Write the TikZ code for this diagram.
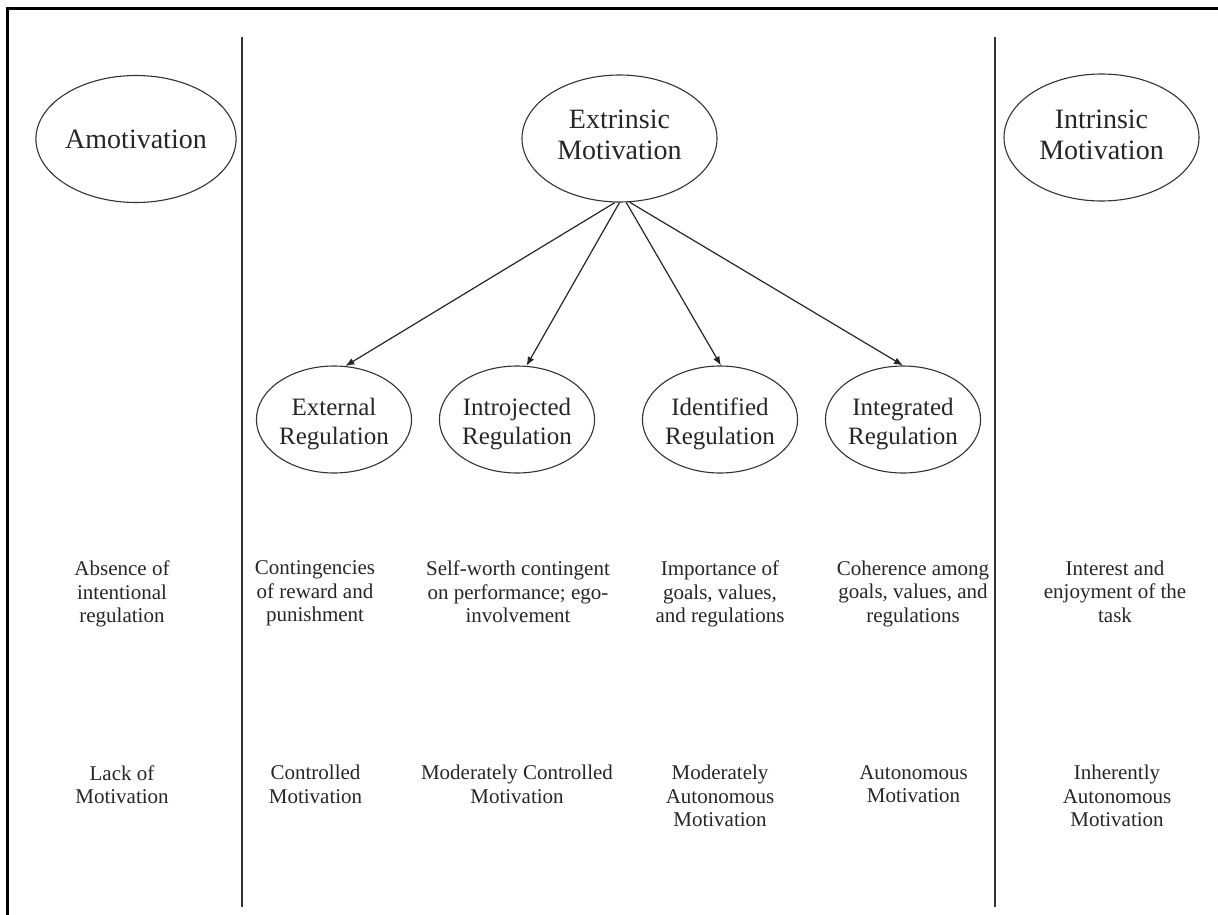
\documentclass[tikz,border=0pt]{standalone}
\usepackage{fontspec}
\setmainfont{Liberation Serif}
\usetikzlibrary{shapes.geometric,arrows.meta}
\begin{document}
\begin{tikzpicture}[x=1pt,y=-1pt,
  big/.style={ellipse,draw=black!80,line width=1.1pt,inner sep=0pt,align=center,text=black!85,
    font=\fontsize{28}{32}\selectfont,minimum width=195pt,minimum height=127pt},
  reg/.style={ellipse,draw=black!80,line width=1.1pt,inner sep=0pt,align=center,text=black!85,
    font=\fontsize{25}{29}\selectfont,minimum width=146pt,minimum height=107pt,
    text height=51pt,text depth=2pt},
  desc/.style={anchor=north,inner sep=0pt,align=center,text=black!85,
    font=\fontsize{21}{23.5}\selectfont},
  arr/.style={-{Latex[length=9pt,width=7pt]},line width=1.2pt,draw=black!85},
  divider/.style={line width=2pt,draw=black!80},
  frame/.style={line width=2.5pt,draw=black}]
\useasboundingbox (0,0) rectangle (1218,915);
\clip (0,0) rectangle (1218,915);

% outer frame (runs off the right and bottom edges)
\coordinate (fr1) at (7.5,8.5);
\coordinate (fr2) at (1240,940);
\draw[frame] (fr1) rectangle (fr2);

% dividers
\coordinate (d1t) at (241.5,37);
\coordinate (d1b) at (241.5,907);
\coordinate (d2t) at (994.5,37);
\coordinate (d2b) at (994.5,907);
\draw[divider] (d1t) -- (d1b);
\draw[divider] (d2t) -- (d2b);

% top ellipses
\node[big] (amo) at (136,139) {Amotivation};
\node[big,text height=51pt,text depth=8pt] (em) at (619.5,138.5) {Extrinsic\\Motivation};
\node[big,text height=51pt,text depth=6pt] (im) at (1101.5,137.5) {Intrinsic\\Motivation};

% regulation ellipses
\node[reg] (ext) at (334,419.5) {External\\Regulation};
\node[reg] (intro) at (517,419.5) {Introjected\\Regulation};
\node[reg] (ident) at (720,419.5) {Identified\\Regulation};
\node[reg] (integ) at (903,419.5) {Integrated\\Regulation};

% arrows
\draw[arr] (em.266) -- (ext.78);
\draw[arr] (em.270) -- (intro.80);
\draw[arr] (em.276) -- (ident.89);
\draw[arr] (em.279) -- (integ.90);

% descriptions
\node[desc] (a1) at (122,560.7) {Absence of\\intentional\\regulation};
\node[desc] (a2) at (315,560.7) {Contingencies\\of reward and\\punishment};
\node[desc] (a3) at (518,560.7) {Self-worth contingent\\on performance; ego-\\involvement};
\node[desc] (a4) at (720,560.7) {Importance of\\goals, values,\\and regulations};
\node[desc] (a5) at (913,560.7) {Coherence among\\goals, values, and\\regulations};
\node[desc] (a6) at (1115,560.7) {Interest and\\enjoyment of the\\task};

% motivation types
\node[desc] (b1) at (122,765.2) {Lack of\\Motivation};
\node[desc] (b2) at (315.5,765.2) {Controlled\\Motivation};
\node[desc] (b3) at (517,765.2) {Moderately Controlled\\Motivation};
\node[desc] (b4) at (720,765.2) {Moderately\\Autonomous\\Motivation};
\node[desc] (b5) at (913.5,765.2) {Autonomous\\Motivation};
\node[desc] (b6) at (1117,765.2) {Inherently\\Autonomous\\Motivation};
\end{tikzpicture}
\end{document}
